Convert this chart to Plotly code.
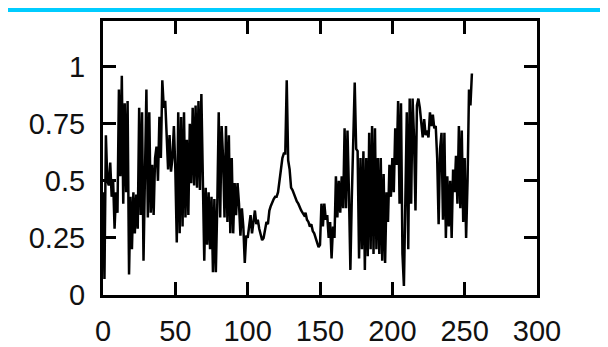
import plotly.graph_objects as go

# x positions: one sample per integer step
x_vals = list(range(256))

y_vals = [
    0.45, 0.07, 0.70, 0.50, 0.48, 0.58, 0.43, 0.50, 0.29, 0.45,
    0.36, 0.90, 0.52, 0.96, 0.40, 0.84, 0.45, 0.85, 0.09, 0.43,
    0.20, 0.45, 0.27, 0.44, 0.29, 0.82, 0.35, 0.80, 0.15, 0.62,
    0.90, 0.34, 0.80, 0.36, 0.57, 0.35, 0.60, 0.65, 0.50, 0.78,
    0.60, 0.94, 0.82, 0.85, 0.72, 0.55, 0.70, 0.54, 0.60, 0.74,
    0.55, 0.23, 0.80, 0.27, 0.78, 0.30, 0.80, 0.34, 0.68, 0.35,
    0.75, 0.49, 0.82, 0.48, 0.83, 0.47, 0.85, 0.46, 0.88, 0.46,
    0.15, 0.47, 0.22, 0.45, 0.20, 0.43, 0.10, 0.42, 0.10, 0.40,
    0.80, 0.34, 0.74, 0.60, 0.34, 0.74, 0.32, 0.70, 0.27, 0.60,
    0.27, 0.49, 0.35, 0.49, 0.40, 0.26, 0.38, 0.30, 0.14, 0.26,
    0.25, 0.30, 0.35, 0.27, 0.33, 0.37, 0.31, 0.33, 0.29, 0.27,
    0.24, 0.25, 0.29, 0.32, 0.31, 0.37, 0.39, 0.41, 0.42, 0.43,
    0.43, 0.45, 0.51, 0.55, 0.60, 0.62, 0.62, 0.94, 0.59, 0.55,
    0.47, 0.46, 0.44, 0.42, 0.41, 0.40, 0.38, 0.37, 0.36, 0.35,
    0.36, 0.33, 0.32, 0.30, 0.31, 0.28, 0.27, 0.25, 0.23, 0.21,
    0.22, 0.40, 0.30, 0.40, 0.33, 0.35, 0.25, 0.32, 0.16, 0.30,
    0.25, 0.52, 0.34, 0.50, 0.36, 0.52, 0.38, 0.73, 0.38, 0.72,
    0.45, 0.11, 0.43, 0.70, 0.93, 0.64, 0.63, 0.16, 0.60, 0.20,
    0.63, 0.11, 0.60, 0.17, 0.71, 0.20, 0.74, 0.18, 0.73, 0.20,
    0.60, 0.18, 0.60, 0.15, 0.53, 0.14, 0.45, 0.32, 0.57, 0.43,
    0.60, 0.45, 0.73, 0.57, 0.85, 0.40, 0.84, 0.18, 0.04, 0.41,
    0.80, 0.20, 0.86, 0.40, 0.86, 0.69, 0.37, 0.83, 0.86, 0.82,
    0.75, 0.69, 0.77, 0.70, 0.72, 0.69, 0.80, 0.74, 0.79, 0.73,
    0.74, 0.60, 0.31, 0.64, 0.71, 0.33, 0.71, 0.25, 0.52, 0.30,
    0.50, 0.25, 0.55, 0.45, 0.61, 0.40, 0.74, 0.38, 0.72, 0.32,
    0.60, 0.25, 0.50, 0.90, 0.83, 0.97,
]

x_ticks = [0, 50, 100, 150, 200, 250, 300]
x_tick_labels = ["0", "50", "100", "150", "200", "250", "300"]
y_ticks = [0, 0.25, 0.5, 0.75, 1]
y_tick_labels = ["0", "0.25", "0.5", "0.75", "1"]

# page body has an 8px default margin; figure sized to fit the window
W, H = 600, 339
ML, MR, MT, MB = 95, 71, 13, 52
PW = W - ML - MR
PH = H - MT - MB

fig = go.Figure()
fig.add_trace(go.Scatter(
    x=x_vals, y=y_vals, mode="lines",
    line=dict(color="black", width=2.5),
    showlegend=False, hoverinfo="skip",
))

font = dict(family="Liberation Sans, Arial, sans-serif", size=29, color="#111111")

fig.update_layout(
    width=W, height=H,
    margin=dict(l=ML, r=MR, t=MT, b=MB, pad=0, autoexpand=False),
    paper_bgcolor="white", plot_bgcolor="white",
    font=font,
    xaxis=dict(
        range=[0, 300], tickmode="array", tickvals=x_ticks, ticktext=x_tick_labels,
        ticks="inside", ticklen=13, tickwidth=3, tickcolor="black",
        showline=True, linewidth=3, linecolor="black", mirror="allticks",
        showgrid=False, zeroline=False, tickfont=font, ticklabelstandoff=8,
        automargin=False,
    ),
    yaxis=dict(
        range=[0, 1.2], tickmode="array", tickvals=y_ticks, ticktext=y_tick_labels,
        ticks="inside", ticklen=13, tickwidth=3, tickcolor="black",
        showline=True, linewidth=3, linecolor="black", mirror="allticks",
        showgrid=False, zeroline=False, tickfont=font, ticklabelstandoff=9,
        automargin=False,
    ),
    shapes=[dict(
        type="rect", xref="paper", yref="paper",
        x0=-ML / PW - 0.05, x1=1 + MR / PW + 0.05,
        y0=1 + (MT - 4) / PH, y1=1 + MT / PH + 0.01,
        fillcolor="#00CCFF", line=dict(width=0), layer="above",
    )],
)

fig.write_html("out.html")
